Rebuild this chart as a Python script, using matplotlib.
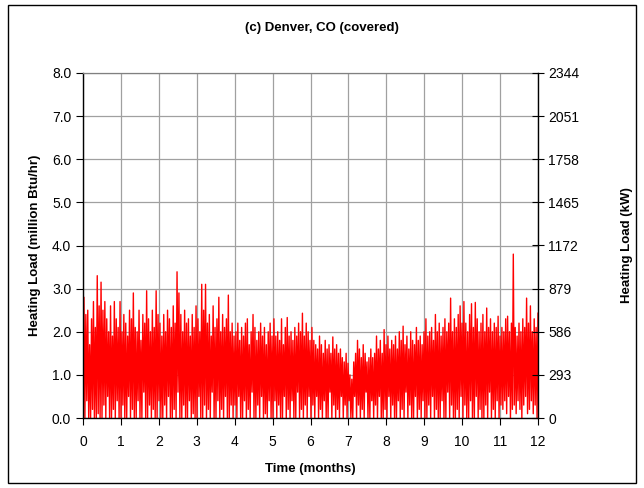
import numpy as np
import matplotlib
matplotlib.use("Agg")
import matplotlib.pyplot as plt
from matplotlib.patches import Rectangle

plt.rcParams['font.family'] = ['Liberation Sans', 'DejaVu Sans']

title = "(c) Denver, CO (covered)"
xlabel = "Time (months)"
ylabel_left = "Heating Load (million Btu/hr)"
ylabel_right = "Heating Load (kW)"
x_ticks = list(range(0, 13))
y_ticks = [0.0, 1.0, 2.0, 3.0, 4.0, 5.0, 6.0, 7.0, 8.0]
kw_labels = ["0", "293", "586", "879", "1172", "1465", "1758", "2051", "2344"]

# Estimated peak loads (million Btu/hr), 20 per month
peaks = [
    2.8, 2.4, 2.5, 1.7, 2.3, 2.7, 2.1, 3.3, 2.6, 3.15, 2.5, 2.7, 2.3, 2.0, 2.6, 1.9, 2.7, 2.3, 2.1, 2.7,
    2.0, 2.4, 2.2, 1.9, 2.5, 2.3, 2.9, 2.1, 2.0, 2.5, 1.8, 2.4, 2.2, 2.95, 2.3, 2.0, 2.5, 2.1, 2.95, 2.4,
    2.2, 1.9, 2.4, 2.0, 2.5, 2.3, 2.1, 2.6, 2.2, 3.39, 2.9, 2.4, 2.0, 2.5, 2.2, 2.3, 1.9, 2.4, 2.1, 2.6,
    2.3, 2.0, 3.1, 2.5, 3.1, 2.2, 2.4, 1.9, 2.6, 2.1, 2.3, 2.8, 2.0, 2.4, 2.1, 2.3, 2.85, 2.0, 2.2, 1.9,
    2.0, 2.2, 1.8, 2.1, 1.9, 2.2, 2.3, 1.7, 2.0, 2.4, 2.1, 1.8, 2.0, 2.2, 1.9, 2.1, 1.7, 2.0, 2.2, 1.9,
    2.3, 1.9, 2.0, 1.8, 2.3, 1.7, 2.1, 2.33, 1.9, 2.0, 1.8, 2.1, 1.9, 2.2, 2.0, 2.43, 1.9, 2.2, 2.0, 1.8,
    2.1, 1.8, 1.7, 1.6, 1.9, 1.7, 1.5, 1.8, 1.6, 1.7, 1.5, 1.88, 1.6, 1.7, 1.5, 1.6, 1.4, 1.3, 1.5, 1.27,
    1.0, 0.9, 1.3, 1.5, 1.8, 1.6, 1.4, 1.7, 1.5, 1.3, 1.4, 1.6, 1.4, 1.5, 1.9, 1.6, 1.8, 1.5, 2.05, 1.7,
    1.9, 1.6, 1.8, 1.7, 1.9, 1.6, 2.0, 1.8, 2.13, 1.7, 1.9, 1.6, 2.0, 1.8, 1.7, 2.1, 1.8, 1.9, 1.7, 2.0,
    2.3, 1.9, 2.0, 2.1, 1.8, 2.4, 2.0, 2.2, 1.9, 2.1, 2.3, 2.0, 2.2, 2.78, 2.0, 2.3, 2.1, 2.4, 2.6, 2.2,
    2.7, 2.2, 2.0, 2.4, 2.65, 2.1, 2.68, 2.3, 2.0, 2.2, 2.4, 2.0, 2.55, 2.1, 2.3, 2.0, 2.2, 2.1, 2.36, 1.9,
    2.1, 2.0, 2.3, 2.36, 2.0, 2.2, 3.8, 2.1, 1.9, 2.2, 2.0, 2.3, 2.1, 2.78, 2.2, 2.6, 2.0, 2.3, 2.1, 2.43,
]

# Estimated low loads between peaks (million Btu/hr), 20 per month
troughs = [
    0.6, 0.0, 0.4, 0.0, 0.0, 0.2, 0.0, 0.0, 0.1, 0.0, 0.0, 0.3, 0.0, 0.5, 0.0, 0.0, 0.2, 0.0, 0.4, 0.0,
    0.0, 0.3, 0.0, 0.0, 0.5, 0.0, 0.2, 0.0, 0.0, 0.4, 0.0, 0.0, 0.6, 0.0, 0.0, 0.3, 0.0, 0.2, 0.0, 0.0,
    0.4, 0.0, 0.0, 0.3, 0.0, 0.5, 0.0, 0.0, 0.2, 0.0, 0.6, 0.0, 0.0, 0.3, 0.0, 0.0, 0.4, 0.0, 0.1, 0.0,
    0.0, 0.5, 0.0, 0.0, 0.3, 0.0, 0.2, 0.0, 0.6, 0.0, 0.0, 0.4, 0.0, 0.2, 0.0, 0.5, 0.0, 0.0, 0.3, 0.0,
    0.3, 0.0, 0.5, 0.0, 0.0, 0.4, 0.0, 0.2, 0.0, 0.6, 0.0, 0.0, 0.3, 0.0, 0.5, 0.0, 0.1, 0.0, 0.4, 0.0,
    0.0, 0.4, 0.0, 0.3, 0.0, 0.0, 0.5, 0.0, 0.2, 0.0, 0.4, 0.0, 0.0, 0.6, 0.0, 0.2, 0.0, 0.3, 0.0, 0.5,
    0.0, 0.3, 0.0, 0.5, 0.0, 0.2, 0.0, 0.4, 0.0, 0.0, 0.6, 0.0, 0.3, 0.0, 0.2, 0.0, 0.5, 0.0, 0.3, 0.0,
    0.4, 0.0, 0.0, 0.5, 0.0, 0.3, 0.0, 0.2, 0.0, 0.6, 0.0, 0.0, 0.4, 0.0, 0.3, 0.0, 0.5, 0.0, 0.0, 0.2,
    0.0, 0.5, 0.0, 0.3, 0.0, 0.0, 0.4, 0.0, 0.2, 0.0, 0.6, 0.0, 0.3, 0.0, 0.0, 0.5, 0.0, 0.2, 0.0, 0.4,
    0.0, 0.0, 0.3, 0.0, 0.5, 0.0, 0.2, 0.0, 0.0, 0.4, 0.0, 0.0, 0.6, 0.0, 0.3, 0.0, 0.0, 0.2, 0.0, 0.5,
    0.0, 0.3, 0.0, 0.0, 0.4, 0.0, 0.0, 0.5, 0.0, 0.2, 0.0, 0.0, 0.3, 0.0, 0.6, 0.0, 0.2, 0.0, 0.4, 0.0,
    0.3, 0.2, 0.4, 0.1, 0.5, 0.0, 0.2, 0.3, 0.1, 0.4, 0.2, 0.0, 0.3, 0.5, 0.1, 0.2, 0.4, 0.1, 0.3, 0.0,
]

load = np.ravel(np.column_stack([troughs, peaks]))
time = np.linspace(0, 12, len(load))

fig = plt.figure(figsize=(6.44, 4.88), dpi=100)
fig.patches.append(Rectangle((8 / 644, 5 / 488), 628 / 644, 478 / 488, transform=fig.transFigure,
                             fill=False, edgecolor='black', linewidth=1.0))

ax = fig.add_axes([83 / 644, 1 - 418 / 488, 455 / 644, 345 / 488])
ax.plot(time, load, color='#ff0000', linewidth=1.0)
ax.set_xlim(0, 12)
ax.set_ylim(0, 8)
ax.set_xticks(x_ticks)
ax.set_yticks(y_ticks)
ax.set_yticklabels([f"{v:.1f}" for v in y_ticks])
ax.grid(True, color='#a0a0a0', linewidth=0.9)
ax.set_axisbelow(True)
ax.tick_params(axis='both', direction='out', length=5, width=0.8, labelsize=10, colors='black')
ax.tick_params(axis='x', pad=7)
for s in ['left', 'bottom']:
    ax.spines[s].set_color('black')
    ax.spines[s].set_linewidth(1.0)
ax.spines['top'].set_color('#808080')
ax.spines['top'].set_linewidth(0.9)
ax.spines['right'].set_visible(False)

ax2 = ax.twinx()
ax2.set_ylim(0, 8)
ax2.set_yticks(y_ticks)
ax2.set_yticklabels(kw_labels)
ax2.tick_params(axis='y', direction='inout', length=8, width=0.8, labelsize=10)
ax2.spines['right'].set_color('black')
ax2.spines['right'].set_linewidth(1.0)
for s in ['left', 'top', 'bottom']:
    ax2.spines[s].set_visible(False)

ax.set_xlabel(xlabel, fontsize=9.5, fontweight='bold', labelpad=10)
ax.set_ylabel(ylabel_left, fontsize=9.5, fontweight='bold', labelpad=8)
ax2.set_ylabel(ylabel_right, fontsize=9.5, fontweight='bold', labelpad=30)
fig.text(0.5, 1 - 28 / 488, title, ha='center', va='center', fontsize=9.5, fontweight='bold')

fig.savefig("out.png", dpi=100)
